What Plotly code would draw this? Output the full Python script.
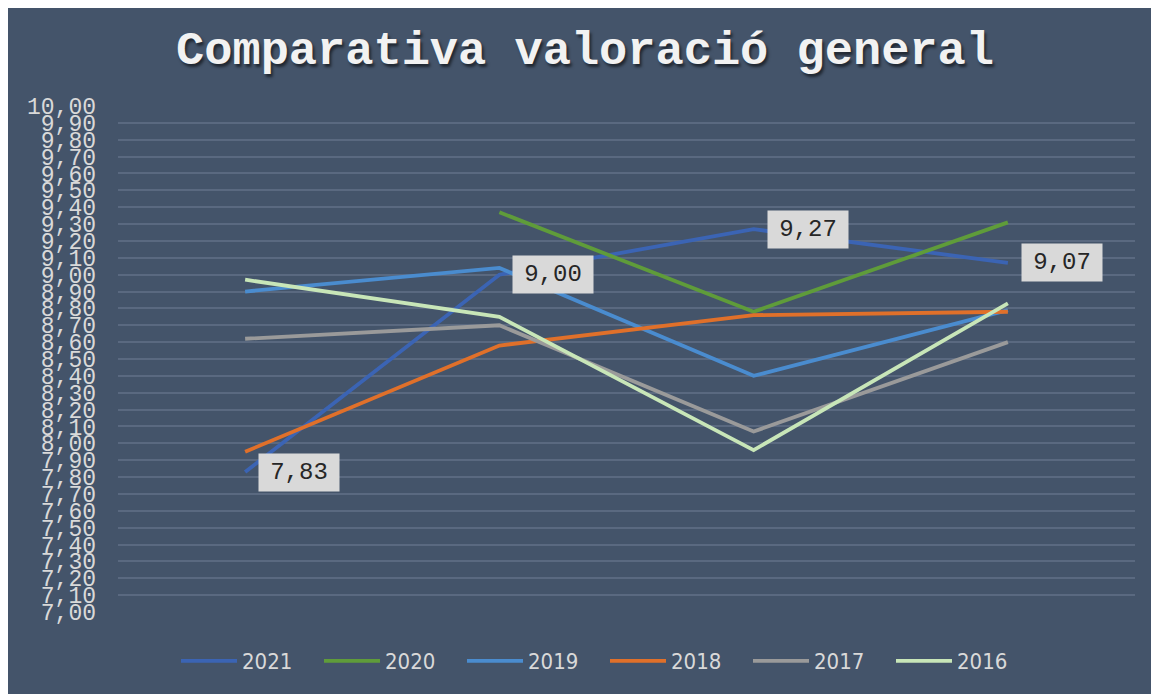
import plotly.graph_objects as go

categories = [1, 2, 3, 4]
series_names = ["2021", "2020", "2019", "2018", "2017", "2016"]
v2021 = [7.83, 9.00, 9.27, 9.07]
v2020 = [None, 9.37, 8.78, 9.31]
v2019 = [8.90, 9.04, 8.40, 8.79]
v2018 = [7.95, 8.58, 8.76, 8.78]
v2017 = [8.62, 8.70, 8.07, 8.60]
v2016 = [8.97, 8.75, 7.96, 8.83]
series_values = [v2021, v2020, v2019, v2018, v2017, v2016]
colors = ["#3b64b4", "#5f9c3a", "#4a8ccf", "#e0702a", "#9a9a9a", "#c8e6b8"]
y_ticks = [round(7 + 0.1 * i, 2) for i in range(31)]
title_text = "Comparativa valoració general"

BG = "#44546a"
fig = go.Figure()

x_idx = list(range(len(categories)))
for name, vals, col in zip(series_names, series_values, colors):
    fig.add_trace(go.Scatter(
        x=x_idx, y=vals, name=name, mode="lines",
        line=dict(color=col, width=3.8),
        connectgaps=False,
    ))

# data labels for 2021
for xi, v in zip(x_idx, v2021):
    fig.add_annotation(
        x=xi, y=v, xref="x", yref="y", text=f"{v:.2f}".replace(".", ","),
        showarrow=False, xanchor="left", yanchor="middle", xshift=13,
        bgcolor="#d9d9d9", borderpad=7, width=66, height=23, align="center",
        font=dict(family="Liberation Mono, Courier New, monospace", size=24, color="#262626"),
    )

# page body has an 8px margin; figure occupies the rest of the window
W, H = 1151, 686
L, R, T, B = 110, 24, 98, 82

fig.update_layout(
    width=W, height=H,
    margin=dict(l=L, r=R, t=T, b=B),
    paper_bgcolor=BG, plot_bgcolor=BG,
    separators=", ",
    title=dict(
        text=title_text, xref="container", yref="container",
        x=577 / W, y=(H - 40) / H, xanchor="center", yanchor="middle",
        font=dict(family="Liberation Mono, Courier New, monospace", size=47,
                  color="#f2f2f2", weight="bold",
                  shadow="2px 3px 3px rgba(0,0,0,0.55)"),
    ),
    xaxis=dict(
        range=[-0.5, len(categories) - 0.5], showticklabels=False,
        showgrid=False, zeroline=False, showline=False, fixedrange=True,
    ),
    yaxis=dict(
        range=[7, 10], tickvals=y_ticks, tickformat=".2f",
        showgrid=True, gridcolor="#5a6980", gridwidth=1.5,
        zeroline=False, showline=False, ticklabelstandoff=21,
        tickfont=dict(family="Liberation Mono, Courier New, monospace", size=23, color="#d9d9d9"),
    ),
    showlegend=True,
    legend=dict(
        orientation="h", xref="container", yref="container",
        x=597 / W, y=(H - 653) / H, xanchor="center", yanchor="middle",
        font=dict(family="Liberation Sans Narrow, DejaVu Sans Condensed, sans-serif", size=22, color="#d9d9d9"),
        itemwidth=56, entrywidth=72, entrywidthmode="pixels",
        bgcolor="rgba(0,0,0,0)",
    ),
)

fig.write_html("out.html")
